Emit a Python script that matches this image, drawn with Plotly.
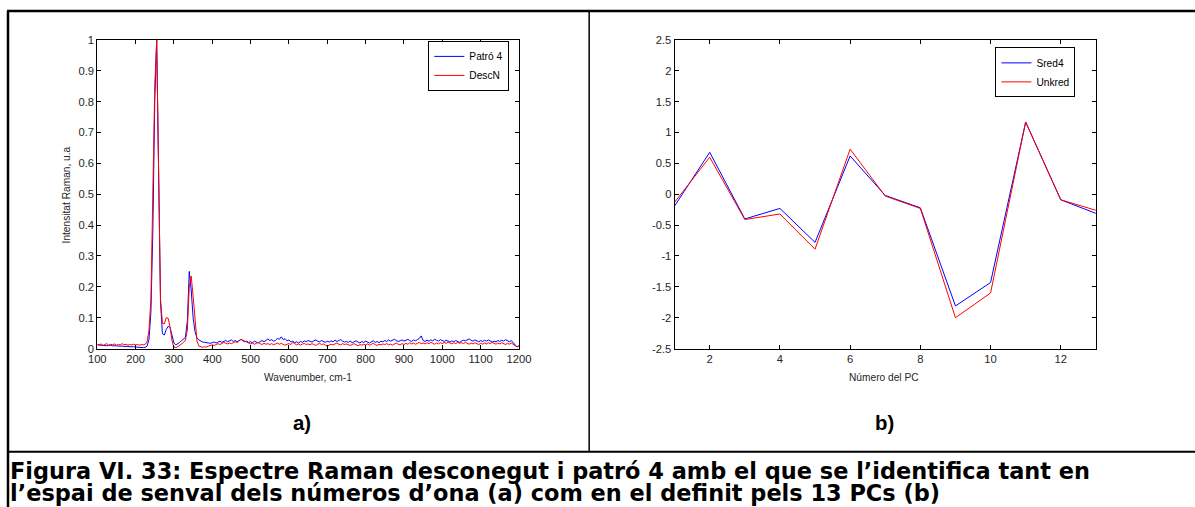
import plotly.graph_objects as go

W, H = 1195, 507

# The captured picture is the page shrunk slightly and inset; layout positions below
# are written in picture pixels and mapped back to page pixels through this affine map.
SCALE_X, SHIFT_X = 0.983, 9.0
SCALE_Y, SHIFT_Y = 0.979, 5.0
FONT_K = 1 / 0.981

# ---- Spectra (panel a): wavenumber grid and normalised Raman intensities ----
wavenumber = list(range(100, 1201, 5))

patro4 = [
    0.012, 0.011, 0.010, 0.011, 0.010, 0.009, 0.010, 0.011, 0.009, 0.010,  # 100-145
    0.009, 0.008, 0.009, 0.008, 0.007, 0.008, 0.007, 0.006, 0.007, 0.006,  # 150-195
    0.005, 0.004, 0.004, 0.003, 0.003, 0.004, 0.008, 0.030, 0.120, 0.380,  # 200-245
    0.800, 1.000, 0.520, 0.150, 0.048, 0.044, 0.062, 0.072, 0.068, 0.040,  # 250-295
    0.018, 0.012, 0.015, 0.020, 0.026, 0.030, 0.036, 0.090, 0.250, 0.190,  # 300-345
    0.100, 0.055, 0.035, 0.028, 0.024, 0.021, 0.020, 0.018, 0.018, 0.017,  # 350-395
    0.019, 0.021, 0.018, 0.022, 0.024, 0.020, 0.023, 0.026, 0.022, 0.025,  # 400-445
    0.028, 0.023, 0.026, 0.022, 0.027, 0.030, 0.025, 0.022, 0.024, 0.020,  # 450-495
    0.022, 0.019, 0.024, 0.021, 0.018, 0.023, 0.026, 0.022, 0.028, 0.031,  # 500-545
    0.026, 0.029, 0.024, 0.027, 0.033, 0.030, 0.038, 0.029, 0.032, 0.025,  # 550-595
    0.028, 0.021, 0.024, 0.019, 0.022, 0.018, 0.023, 0.020, 0.025, 0.022,  # 600-645
    0.026, 0.023, 0.021, 0.025, 0.028, 0.024, 0.022, 0.026, 0.023, 0.020,  # 650-695
    0.024, 0.021, 0.025, 0.022, 0.027, 0.023, 0.026, 0.029, 0.024, 0.021,  # 700-745
    0.023, 0.020, 0.024, 0.019, 0.022, 0.025, 0.021, 0.018, 0.023, 0.020,  # 750-795
    0.024, 0.021, 0.018, 0.022, 0.025, 0.020, 0.023, 0.019, 0.024, 0.022,  # 800-845
    0.026, 0.023, 0.028, 0.024, 0.027, 0.030, 0.026, 0.023, 0.025, 0.028,  # 850-895
    0.024, 0.027, 0.030, 0.026, 0.023, 0.028, 0.025, 0.029, 0.033, 0.041,  # 900-945
    0.026, 0.023, 0.027, 0.024, 0.028, 0.025, 0.030, 0.027, 0.024, 0.029,  # 950-995
    0.026, 0.023, 0.027, 0.024, 0.021, 0.025, 0.022, 0.026, 0.023, 0.020,  # 1000-1045
    0.024, 0.027, 0.025, 0.029, 0.031, 0.027, 0.024, 0.028, 0.025, 0.022,  # 1050-1095
    0.026, 0.023, 0.027, 0.024, 0.028, 0.025, 0.021, 0.024, 0.022, 0.026,  # 1100-1145
    0.023, 0.027, 0.024, 0.029, 0.025, 0.022, 0.026, 0.020, 0.012, 0.005,  # 1150-1195
    0.010,                                                                 # 1200
]

descn = [
    0.014, 0.012, 0.015, 0.010, 0.013, 0.016, 0.011, 0.014, 0.012, 0.015,  # 100-145
    0.011, 0.013, 0.012, 0.016, 0.012, 0.014, 0.011, 0.013, 0.012, 0.014,  # 150-195
    0.012, 0.013, 0.011, 0.013, 0.012, 0.014, 0.022, 0.060, 0.160, 0.450,  # 200-245
    0.850, 1.000, 0.500, 0.160, 0.082, 0.080, 0.100, 0.098, 0.070, 0.025,  # 250-295
    0.005, 0.003, 0.006, 0.010, 0.015, 0.020, 0.028, 0.060, 0.200, 0.235,  # 300-345
    0.170, 0.080, 0.025, 0.008, 0.005, 0.004, 0.006, 0.005, 0.008, 0.010,  # 350-395
    0.012, 0.010, 0.014, 0.016, 0.013, 0.018, 0.020, 0.017, 0.015, 0.018,  # 400-445
    0.016, 0.019, 0.022, 0.020, 0.026, 0.030, 0.027, 0.024, 0.021, 0.018,  # 450-495
    0.015, 0.018, 0.014, 0.017, 0.020, 0.016, 0.013, 0.017, 0.014, 0.016,  # 500-545
    0.013, 0.016, 0.012, 0.015, 0.018, 0.014, 0.017, 0.013, 0.011, 0.014,  # 550-595
    0.016, 0.013, 0.020, 0.016, 0.012, 0.015, 0.011, 0.014, 0.017, 0.013,  # 600-645
    0.015, 0.012, 0.016, 0.013, 0.010, 0.014, 0.017, 0.013, 0.015, 0.011,  # 650-695
    0.008, 0.011, 0.014, 0.012, 0.015, 0.018, 0.014, 0.012, 0.016, 0.013,  # 700-745
    0.015, 0.012, 0.010, 0.013, 0.016, 0.012, 0.009, 0.013, 0.011, 0.014,  # 750-795
    0.012, 0.015, 0.011, 0.014, 0.017, 0.013, 0.010, 0.014, 0.012, 0.015,  # 800-845
    0.013, 0.016, 0.012, 0.014, 0.011, 0.015, 0.018, 0.014, 0.012, 0.016,  # 850-895
    0.013, 0.017, 0.014, 0.019, 0.015, 0.018, 0.014, 0.017, 0.020, 0.016,  # 900-945
    0.018, 0.015, 0.019, 0.016, 0.020, 0.017, 0.014, 0.018, 0.015, 0.019,  # 950-995
    0.016, 0.020, 0.017, 0.021, 0.018, 0.015, 0.019, 0.016, 0.020, 0.017,  # 1000-1045
    0.019, 0.016, 0.020, 0.017, 0.014, 0.018, 0.015, 0.019, 0.016, 0.013,  # 1050-1095
    0.017, 0.014, 0.018, 0.015, 0.019, 0.016, 0.020, 0.017, 0.014, 0.018,  # 1100-1145
    0.015, 0.019, 0.016, 0.013, 0.017, 0.014, 0.018, 0.012, 0.009, 0.006,  # 1150-1195
    0.008,                                                                 # 1200
]

# ---- Scores on the 13 principal components (panel b) ----
pc_number = [1, 2, 3, 4, 5, 6, 7, 8, 9, 10, 11, 12, 13]
sred4 = [-0.19, 0.68, -0.40, -0.23, -0.78, 0.62, -0.02, -0.22, -1.81, -1.43, 1.17, -0.09, -0.31]
unkred = [-0.13, 0.60, -0.41, -0.32, -0.89, 0.73, -0.03, -0.23, -2.00, -1.60, 1.17, -0.09, -0.26]

# ---- Tick labels ----
left_xticks = [100, 200, 300, 400, 500, 600, 700, 800, 900, 1000, 1100, 1200]
left_yticks = [0, 0.1, 0.2, 0.3, 0.4, 0.5, 0.6, 0.7, 0.8, 0.9, 1]
left_yticklabels = ["0", "0.1", "0.2", "0.3", "0.4", "0.5", "0.6", "0.7", "0.8", "0.9", "1"]
right_xticks = [2, 4, 6, 8, 10, 12]
right_yticks = [-2.5, -2, -1.5, -1, -0.5, 0, 0.5, 1, 1.5, 2, 2.5]
right_yticklabels = ["-2.5", "-2", "-1.5", "-1", "-0.5", "0", "0.5", "1", "1.5", "2", "2.5"]

caption_line1 = "Figura VI. 33: Espectre Raman desconegut i patró 4 amb el que se l’identifica tant en"
caption_line2 = "l’espai de senval dels números d’ona (a) com en el definit pels 13 PCs (b)"


def px(x):
    """Picture x pixel -> paper fraction."""
    return ((x - SHIFT_X) / SCALE_X) / W


def py(y):
    """Picture y pixel (from top) -> paper fraction."""
    return 1 - ((y - SHIFT_Y) / SCALE_Y) / H


def fs(size):
    return round(size * FONT_K, 2)


AX_FONT = dict(family="Liberation Sans, Arial, sans-serif", size=fs(11), color="#262626")
LBL_FONT = dict(family="Liberation Sans, Arial, sans-serif", size=fs(10), color="#262626")
LEG_FONT = dict(family="Liberation Sans, Arial, sans-serif", size=fs(10), color="black")

fig = go.Figure()

fig.add_trace(go.Scatter(x=wavenumber, y=patro4, mode="lines", name="Patró 4",
                         line=dict(color="#0000ff", width=1), xaxis="x", yaxis="y",
                         legend="legend"))
fig.add_trace(go.Scatter(x=wavenumber, y=descn, mode="lines", name="DescN",
                         line=dict(color="#ff0000", width=1), xaxis="x", yaxis="y",
                         legend="legend"))
fig.add_trace(go.Scatter(x=pc_number, y=sred4, mode="lines", name="Sred4",
                         line=dict(color="#0000ff", width=1), xaxis="x2", yaxis="y2",
                         legend="legend2"))
fig.add_trace(go.Scatter(x=pc_number, y=unkred, mode="lines", name="Unkred",
                         line=dict(color="#ff0000", width=1), xaxis="x2", yaxis="y2",
                         legend="legend2"))

axis_common = dict(showline=True, linecolor="black", linewidth=1, mirror="ticks",
                   ticks="inside", ticklen=4, tickwidth=1, tickcolor="black",
                   showgrid=False, zeroline=False, tickfont=AX_FONT)

y_dom = [py(348.5), py(39)]

fig.update_layout(
    width=W, height=H,
    margin=dict(l=0, r=0, t=0, b=0),
    paper_bgcolor="white", plot_bgcolor="white",
    xaxis=dict(domain=[px(97.3), px(519.3)], range=[100, 1200], anchor="y",
               tickvals=left_xticks, **axis_common),
    yaxis=dict(domain=y_dom, range=[0, 1], anchor="x",
               tickvals=left_yticks, ticktext=left_yticklabels, **axis_common),
    xaxis2=dict(domain=[px(675), px(1096.5)], range=[1, 13], anchor="y2",
                tickvals=right_xticks, **axis_common),
    yaxis2=dict(domain=y_dom, range=[-2.5, 2.5], anchor="x2",
                tickvals=right_yticks, ticktext=right_yticklabels, **axis_common),
    legend=dict(x=px(428.6), y=py(40), xanchor="left", yanchor="top",
                bgcolor="white", bordercolor="black", borderwidth=1,
                font=LEG_FONT, tracegroupgap=0, itemwidth=30),
    legend2=dict(x=px(996), y=py(46.5), xanchor="left", yanchor="top",
                 bgcolor="white", bordercolor="black", borderwidth=1,
                 font=LEG_FONT, tracegroupgap=0, itemwidth=30),
    showlegend=True,
)

# Axis titles and panel letters
fig.add_annotation(x=px(308), y=py(378), xref="paper", yref="paper", showarrow=False,
                   text="Wavenumber, cm-1", font=LBL_FONT, xanchor="center", yanchor="middle")
fig.add_annotation(x=px(67), y=py(194), xref="paper", yref="paper", showarrow=False,
                   text="Intensitat Raman, u.a", font=LBL_FONT, textangle=-90,
                   xanchor="center", yanchor="middle")
fig.add_annotation(x=px(885), y=py(378), xref="paper", yref="paper", showarrow=False,
                   text="Número del PC", font=LBL_FONT, xanchor="center", yanchor="middle")

PANEL_FONT = dict(family="Liberation Sans, Arial, sans-serif", size=fs(20), color="black")
fig.add_annotation(x=px(302), y=py(423), xref="paper", yref="paper", showarrow=False,
                   text="<b>a)</b>", font=PANEL_FONT, xanchor="center", yanchor="middle")
fig.add_annotation(x=px(885), y=py(423), xref="paper", yref="paper", showarrow=False,
                   text="<b>b)</b>", font=PANEL_FONT, xanchor="center", yanchor="middle")

# Figure caption
CAP_FONT = dict(family="DejaVu Sans, Verdana, sans-serif", size=fs(22), color="black")
fig.add_annotation(x=px(8), y=py(471), xref="paper", yref="paper", showarrow=False,
                   text="<b>" + caption_line1 + "</b>", font=CAP_FONT,
                   xanchor="left", yanchor="middle")
fig.add_annotation(x=px(8), y=py(493), xref="paper", yref="paper", showarrow=False,
                   text="<b>" + caption_line2 + "</b>", font=CAP_FONT,
                   xanchor="left", yanchor="middle")

# Table frame around the two panels and the caption (picture pixels)
frame = [
    (7, 10, 1200, 10, 2.5),        # top border
    (8, 10, 8, 520, 2.5),          # left border
    (589.5, 10, 589.5, 452, 1.5),  # divider between panels
    (8, 452, 1200, 452, 2),        # line above caption
]
for x0, y0, x1, y1, w in frame:
    fig.add_shape(type="line", xref="paper", yref="paper",
                  x0=px(x0), y0=py(y0), x1=px(x1), y1=py(y1),
                  line=dict(color="black", width=w))

fig.write_html("out.html")
